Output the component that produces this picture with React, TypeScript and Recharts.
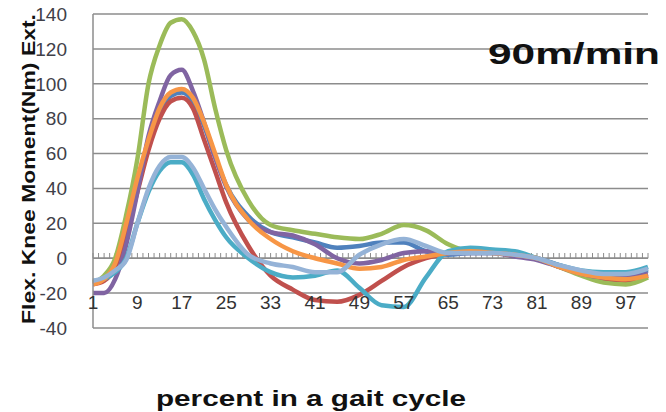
import React from "react";
import {
  LineChart,
  Line,
  XAxis,
  YAxis,
  CartesianGrid,
  ReferenceLine,
} from "recharts";

// percent in gait cycle (x positions)
const pct = [1, 3, 5, 7, 9, 11, 13, 15, 17, 19, 21, 23, 25, 29, 33, 37, 41, 45, 49, 53, 57, 61, 65, 69, 73, 77, 81, 85, 89, 93, 97, 101];

// knee moment per trial (Nm)
const blue = [-14, -12, -4, 16, 40, 64, 82, 93, 95, 90, 76, 58, 42, 24, 15, 12, 9, 6, 7, 9, 9, 4, 2, 3, 3, 2, 0, -4, -8, -9, -9, -7];
const red = [-15, -13, -5, 14, 38, 62, 80, 90, 92, 86, 68, 50, 32, 7, -10, -18, -24, -25, -21, -13, -5, 0, 3, 4, 4, 2, 0, -5, -9, -12, -13, -10];
const green = [-14, -10, 0, 25, 57, 100, 122, 135, 137, 130, 114, 86, 62, 33, 19, 16, 14, 12, 11, 14, 19, 16, 8, 4, 4, 3, 0, -5, -10, -14, -15, -11];
const purple = [-20, -20, -12, 8, 38, 70, 90, 105, 108, 96, 78, 58, 41, 22, 15, 13, 8, 0, -3, -1, 3, 4, 3, 3, 3, 1, -1, -5, -9, -11, -11, -9];
const teal = [-13, -12, -8, 0, 20, 38, 50, 55, 55, 48, 34, 22, 12, 0, -8, -11, -10, -7, -17, -27, -28, -11, 4, 6, 5, 4, 0, -4, -7, -8, -8, -5];
const orange = [-15, -12, -3, 20, 46, 68, 86, 95, 97, 92, 78, 60, 42, 22, 11, 4, 0, -3, -6, -5, -1, 1, 3, 4, 3, 2, 0, -5, -9, -11, -12, -10];
const lightBlue = [-13, -11, -7, -1, 20, 40, 53, 58, 58, 52, 40, 28, 18, 2, -3, -5, -8, -8, 2, 8, 11, 7, 3, 3, 3, 2, 0, -4, -7, -9, -9, -6];

const xTicks = [1, 9, 17, 25, 33, 41, 49, 57, 65, 73, 81, 89, 97];
const yTicks = [-40, -20, 0, 20, 40, 60, 80, 100, 120, 140];
const categories = Array.from({ length: 101 }, (_, i) => i + 1);

const series = [
  { key: "s1", values: blue, color: "#4F81BD" },
  { key: "s2", values: red, color: "#C0504D" },
  { key: "s3", values: green, color: "#9BBB59" },
  { key: "s4", values: purple, color: "#8064A2" },
  { key: "s5", values: teal, color: "#4BACC6" },
  { key: "s6", values: orange, color: "#F79646" },
  { key: "s7", values: lightBlue, color: "#95B3D7" },
];

const data = pct.map((p, i) => {
  const row: Record<string, number> = { pct: p };
  series.forEach((s) => (row[s.key] = s.values[i]));
  return row;
});

const gridColor = "#8c8c8c";
const font = "'Liberation Sans', Arial, sans-serif";

const XTick = (props: any) => {
  const { x, y, payload } = props;
  return (
    <text x={x} y={y - 19} textAnchor="middle" fontSize={19} fontFamily={font} fill="#333">
      {payload.value}
    </text>
  );
};

export default function App() {
  return (
    <div style={{ position: "fixed", left: 0, top: 0, width: 666, height: 412, background: "#fff" }}>
      <LineChart
        width={666}
        height={412}
        data={data}
        margin={{ top: 14, right: 18, left: 0, bottom: 0 }}
      >
        <CartesianGrid vertical={false} stroke={gridColor} strokeWidth={1.5} />
        <XAxis
          dataKey="pct"
          type="number"
          domain={[1, 101]}
          ticks={xTicks}
          axisLine={false}
          tickLine={false}
          tickSize={0}
          tickMargin={0}
          height={84}
          tick={<XTick />}
          interval={0}
        />
        <YAxis
          domain={[-40, 140]}
          ticks={yTicks}
          width={93}
          axisLine={{ stroke: gridColor, strokeWidth: 1.5 }}
          tickLine={false}
          tickSize={0}
          tickMargin={26}
          tick={{ fontSize: 19, fontFamily: font, fill: "#404048" }}
          interval={0}
        />
        <ReferenceLine y={0} stroke={gridColor} strokeWidth={1.5} />
        {categories.map((c) => (
          <ReferenceLine
            key={"t" + c}
            segment={[
              { x: c, y: 0 },
              { x: c, y: 3 },
            ]}
            stroke={gridColor}
            strokeWidth={1}
          />
        ))}
        {series.map((s) => (
          <Line
            key={s.key}
            dataKey={s.key}
            type="monotone"
            stroke={s.color}
            strokeWidth={4.5}
            dot={false}
            isAnimationActive={false}
          />
        ))}
      </LineChart>
      <svg
        width={666}
        height={412}
        style={{ position: "absolute", left: 0, top: 0, pointerEvents: "none" }}
      >
        <text
          x={0}
          y={0}
          transform="translate(35,169) rotate(-90)"
          textAnchor="middle"
          fontSize={19}
          fontWeight="bold"
          fontFamily={font}
          fill="#111"
          textLength={310}
          lengthAdjust="spacingAndGlyphs"
        >
          Flex.  Knee Moment(Nm)  Ext.
        </text>
        <text
          x={488}
          y={64}
          fontSize={30}
          fontWeight="bold"
          fontFamily={font}
          fill="#111"
          textLength={172}
          lengthAdjust="spacingAndGlyphs"
        >
          90m/min
        </text>
        <text
          x={156}
          y={406}
          fontSize={22}
          fontWeight="bold"
          fontFamily={font}
          fill="#111"
          textLength={310}
          lengthAdjust="spacingAndGlyphs"
        >
          percent in a gait cycle
        </text>
      </svg>
    </div>
  );
}
